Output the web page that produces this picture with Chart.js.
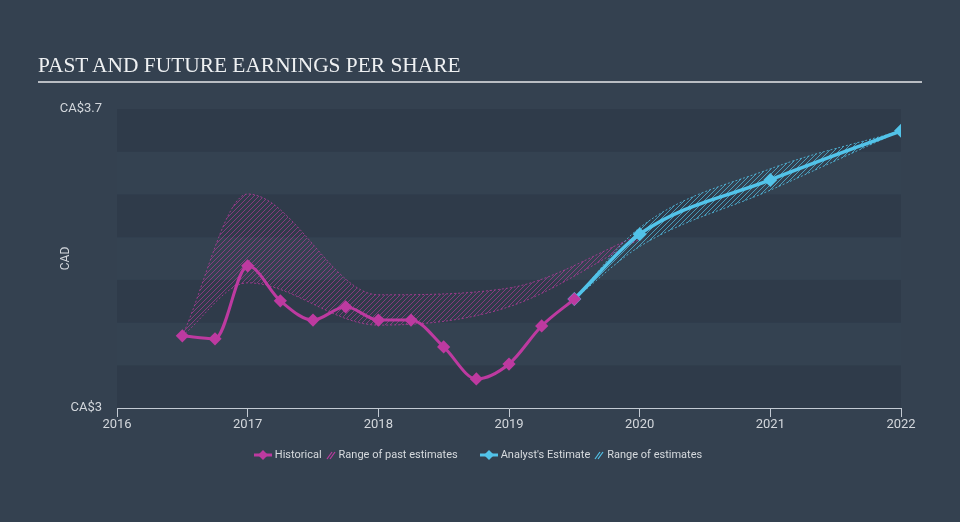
<!DOCTYPE html>
<html>
<head>
<meta charset="utf-8">
<script src="https://cdn.jsdelivr.net/npm/chart.js@4"></script>
<style>
	html, body { margin: 0; padding: 0; }
	body { width: 960px; height: 522px; background: #344150; position: relative; overflow: hidden; font-family: Roboto, "Liberation Sans", sans-serif; }
	#chart-wrap { position: absolute; left: 0; top: 0; width: 960px; height: 522px; }
	.eps-title { position: absolute; left: 38px; top: 53px; font-family: "Liberation Serif", "DejaVu Serif", serif; font-size: 21.4px; color: #eef0f2; }
	.eps-rule { position: absolute; left: 38px; top: 81px; width: 884px; height: 2px; background: #b9bdc3; }
	.eps-legend { position: absolute; left: 0; top: 448px; width: 960px; text-align: center; font-size: 11px; color: #d6dade; white-space: nowrap; }
	.eps-leg-item { display: inline-flex; align-items: center; margin: 0 9px; }
	.eps-leg-item svg { margin-right: 3px; }
	.eps-leg-item span { margin-right: 4px; }
</style>
</head>
<body>
<div id="chart-wrap"><canvas id="eps-chart" width="960" height="522"></canvas></div>
<div class="eps-title">PAST AND FUTURE EARNINGS PER SHARE</div>
<div class="eps-rule"></div>
<div class="eps-legend" id="eps-legend"></div>
<script>
// ── Data ─────────────────────────────────────────────────────────────────────
var hist_x = [2016.5, 2016.75, 2017, 2017.25, 2017.5, 2017.75, 2018, 2018.25, 2018.5, 2018.75, 2019, 2019.25, 2019.5];
var hist_eps = [3.169, 3.162, 3.333, 3.251, 3.206, 3.237, 3.206, 3.206, 3.143, 3.068, 3.103, 3.192, 3.255];

var past_range_x = [2016.5, 2017, 2018, 2019, 2020];
var past_range_hi = [3.169, 3.501, 3.265, 3.281, 3.405];
var past_range_lo = [3.169, 3.293, 3.194, 3.237, 3.395];

var est_x = [2019.5, 2020, 2021, 2022];
var est_eps = [3.255, 3.407, 3.534, 3.649];

var est_range_x = [2019.5, 2020, 2021, 2022];
var est_range_hi = [3.255, 3.422, 3.56, 3.649];
var est_range_lo = [3.255, 3.378, 3.51, 3.649];

var year_ticks = [2016, 2017, 2018, 2019, 2020, 2021, 2022];
var eps_ticks = [3, 3.7];
var band_edges = [3, 3.1, 3.2, 3.3, 3.4, 3.5, 3.6, 3.7];

var MAGENTA = "#bd3aa0";
var CYAN = "#52c3e9";

function pts(xs, ys) {
	return xs.map((x, i) => ({ x: x, y: ys[i] }));
}

function hatch(color) {
	var c = document.createElement("canvas");
	c.width = 5;
	c.height = 5;
	var g = c.getContext("2d");
	g.strokeStyle = color;
	g.lineWidth = 1;
	g.beginPath();
	g.moveTo(0, 5);
	g.lineTo(5, 0);
	g.moveTo(-1, 1);
	g.lineTo(1, -1);
	g.moveTo(4, 6);
	g.lineTo(6, 4);
	g.stroke();
	return g.createPattern(c, "repeat");
}

// ── Alternating background bands ─────────────────────────────────────────────
var bandsPlugin = {
	id: "bands",
	beforeDatasetsDraw: function (chart) {
		var ctx = chart.ctx, area = chart.chartArea, ys = chart.scales.y;
		ctx.save();
		for (var i = 0; i < band_edges.length - 1; i++) {
			var top = ys.getPixelForValue(band_edges[i + 1]);
			var bot = ys.getPixelForValue(band_edges[i]);
			ctx.fillStyle = i % 2 === 0 ? "#2f3b4a" : "#344251";
			ctx.fillRect(area.left, top, area.right - area.left, bot - top);
		}
		ctx.restore();
	},
};

var line_base = {
	cubicInterpolationMode: "monotone",
	fill: false,
};

var range_base = {
	cubicInterpolationMode: "monotone",
	pointRadius: 0,
	borderWidth: 1,
	borderDash: [2, 2],
};

new Chart(document.getElementById("eps-chart"), {
	type: "line",
	data: {
		datasets: [
			Object.assign({}, line_base, {
				label: "Historical",
				data: pts(hist_x, hist_eps),
				borderColor: MAGENTA,
				backgroundColor: MAGENTA,
				borderWidth: 3,
				pointStyle: "rectRot",
				pointRadius: 4.5,
			}),
			Object.assign({}, line_base, {
				label: "Analyst's Estimate",
				data: pts(est_x, est_eps),
				borderColor: CYAN,
				backgroundColor: CYAN,
				borderWidth: 3.5,
				pointStyle: "rectRot",
				pointRadius: 4.5,
			}),
			Object.assign({}, range_base, {
				label: "est lo",
				data: pts(est_range_x, est_range_lo),
				borderColor: "rgba(82,195,233,0.8)",
				fill: false,
			}),
			Object.assign({}, range_base, {
				label: "Range of estimates",
				data: pts(est_range_x, est_range_hi),
				borderColor: "rgba(82,195,233,0.8)",
				backgroundColor: hatch("rgba(82,195,233,0.7)"),
				fill: "-1",
			}),
			Object.assign({}, range_base, {
				label: "past lo",
				data: pts(past_range_x, past_range_lo),
				borderColor: "rgba(189,58,160,0.75)",
				fill: false,
			}),
			Object.assign({}, range_base, {
				label: "Range of past estimates",
				data: pts(past_range_x, past_range_hi),
				borderColor: "rgba(189,58,160,0.75)",
				backgroundColor: hatch("rgba(189,58,160,0.6)"),
				fill: "-1",
			}),
		],
	},
	options: {
		responsive: false,
		animation: false,
		layout: { padding: { left: 0, top: 109, right: 59, bottom: 84 } },
		plugins: {
			legend: { display: false },
			tooltip: { enabled: false },
		},
		scales: {
			x: {
				type: "linear",
				min: 2016,
				max: 2022,
				afterFit: (s) => { s.height = 30; },
				afterBuildTicks: (s) => { s.ticks = year_ticks.map((v) => ({ value: v })); },
				border: { display: true, color: "#c3cad3", width: 1 },
				grid: { display: true, drawOnChartArea: false, drawTicks: true, tickLength: 9, color: "#c3cad3" },
				ticks: {
					color: "#d3d7dc",
					font: { family: "Roboto", size: 13 },
					padding: 0,
					maxRotation: 0,
					callback: (v) => String(v),
				},
			},
			y: {
				min: 3,
				max: 3.7,
				afterFit: (s) => { s.width = 117; },
				afterBuildTicks: (s) => { s.ticks = eps_ticks.map((v) => ({ value: v })); },
				border: { display: false },
				grid: { display: false, drawTicks: false },
				ticks: {
					color: "#d3d7dc",
					font: { family: "Roboto", size: 13 },
					padding: 15,
					callback: (v) => "CA$" + v,
				},
				title: {
					display: true,
					text: "CAD",
					color: "#d3d7dc",
					font: { family: "Roboto", size: 12 },
					padding: { top: 59, bottom: 0 },
				},
			},
		},
	},
	plugins: [bandsPlugin],
});

// ── Legend ───────────────────────────────────────────────────────────────────
function marker_svg(color) {
	return '<svg width="18" height="10" viewBox="0 0 18 10"><line x1="0" y1="5" x2="18" y2="5" stroke="' + color + '" stroke-width="3"/><polygon points="9,0 14,5 9,10 4,5" fill="' + color + '"/></svg>';
}
function hatch_svg(color) {
	return '<svg width="10" height="10" viewBox="0 0 10 10"><line x1="1" y1="9" x2="6" y2="2" stroke="' + color + '" stroke-width="1.2"/><line x1="4" y1="9" x2="9" y2="2" stroke="' + color + '" stroke-width="1.2"/></svg>';
}
document.getElementById("eps-legend").innerHTML =
	'<span class="eps-leg-item">' + marker_svg(MAGENTA) + '<span>Historical</span>' + hatch_svg(MAGENTA) + '<span>Range of past estimates</span></span>' +
	'<span class="eps-leg-item">' + marker_svg(CYAN) + '<span>Analyst\'s Estimate</span>' + hatch_svg(CYAN) + '<span>Range of estimates</span></span>';
</script>
</body>
</html>
